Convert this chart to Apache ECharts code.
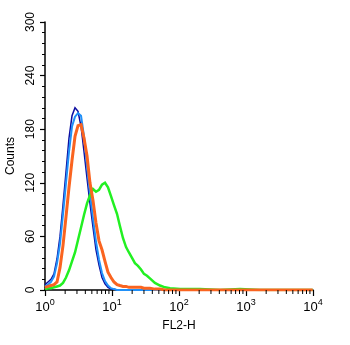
<!DOCTYPE html>
<html><head><meta charset="utf-8">
<script src="https://cdn.jsdelivr.net/npm/echarts@6/dist/echarts.min.js"></script>
<style>html,body{margin:0;padding:0;background:#fff}#c{width:350px;height:345px}</style>
</head><body><div id="c"></div>
<script>
// Fluorescence channel (FL2-H) values
var channels = [1.00,1.109,1.229,1.362,1.511,1.675,1.857,2.058,2.282,2.530,2.805,3.11,3.45,3.82,4.24,4.69,5.21,5.77,6.40,7.09,7.86,8.71,9.66,10.7,11.9,13.1,14.6,16.2,17.9,19.9,22.0,24.4,27.1,30.0,33.3,36.8,43.7,52.0,61.7,73.5,104,146,206,410,815,1620,3220,6400,9900];
var darkBlue  = [6,9,12,18,35,60,95,132,170,195,204,200,183,155,125,97,70,45,28,14,7,3,1,1,0,0,0,0,0,0,0,0,0,0,0,0,0,0,0,0,0,0,0,0,0,0,0,0,0];
var lightBlue = [4,6,9,15,30,52,85,120,155,183,194,198,195,172,138,108,80,54,34,19,10,5,2,1,0,0,0,0,0,0,0,0,0,0,0,0,0,0,0,0,0,0,0,0,0,0,0,0,0];
var orange    = [3,4,5,6,9,25,50,82,115,145,172,184,185,170,150,120,100,75,55,45,32,20,14,9,6,5,4,4,3,3,3,3,3,2,2,2,1,1,0,0,0,0,0,0,0,0,0,0,0];
var green     = [1,2,2,3,4,5,8,14,22,32,42,56,70,84,97,106,113,110,112,118,120,115,105,95,85,72,58,48,42,36,30,27,23,18,16,13,8,5,3,2,1,1,1,0,1,0,0,0,0];
var yTicks = [0,60,120,180,240,300];
var xMinorTicks = [2,3,4,5,6,7,8,9,20,30,40,50,60,70,80,90,200,300,400,500,600,700,800,900,2000,3000,4000,5000,6000,7000,8000,9000];

function pairs(ys){ return channels.map(function(x,i){ return [x, ys[i]]; }); }
function line(name, ys, color, w){
  return {name:name, type:'line', symbol:'none', data:pairs(ys),
    lineStyle:{color:color, width:w, join:'miter'}, itemStyle:{color:color}, animation:false};
}
var F = 'Liberation Sans, Arial, sans-serif';
var chart = echarts.init(document.getElementById('c'), null, {renderer:'canvas'});
chart.setOption({
  animation:false,
  backgroundColor:'#fff',
  textStyle:{fontFamily:F, color:'#000'},
  grid:{left:45, right:37, top:22, bottom:55, containLabel:false, outerBoundsMode:'none'},
  xAxis:{type:'log', logBase:10, min:1, max:10000,
    name:'FL2-H', nameLocation:'middle', nameGap:30,
    nameTextStyle:{fontSize:12, color:'#000', fontFamily:F},
    axisLine:{lineStyle:{color:'#000', width:1.5}},
    axisTick:{show:true, length:6, lineStyle:{color:'#000', width:1.2}},
    splitLine:{show:false},
    axisLabel:{margin:8, color:'#000',
      formatter:function(v){ return '{b|10}{s|' + Math.round(Math.log10(v)) + '}'; },
      rich:{b:{fontSize:13, lineHeight:16, verticalAlign:'bottom', fontFamily:F, color:'#000'},
            s:{fontSize:9, lineHeight:10, verticalAlign:'top', fontFamily:F, color:'#000'}}}
  },
  yAxis:{type:'value', min:0, max:300, interval:60,
    name:'Counts', nameLocation:'middle', nameGap:25, nameRotate:90,
    nameTextStyle:{fontSize:12, color:'#000', fontFamily:F},
    axisLine:{show:true, lineStyle:{color:'#000', width:1.5}},
    axisTick:{show:true, length:5, lineStyle:{color:'#000', width:1.2}},
    minorTick:{show:true, splitNumber:5, length:3, lineStyle:{color:'#000', width:1}},
    splitLine:{show:false},
    axisLabel:{rotate:90, margin:8, fontSize:12, color:'#000',
      formatter:function(v){ return yTicks.indexOf(v) >= 0 ? String(v) : ''; }}
  },
  series:[
    line('dark', darkBlue, '#0c0ca0', 1.5),
    line('light', lightBlue, '#2090f8', 2),
    line('green', green, '#22f022', 2.5),
    line('orange', orange, '#fa6420', 3),
    {type:'custom', silent:true, clip:false, data:xMinorTicks.map(function(v){return [v,0];}),
      renderItem:function(params, api){
        var p = api.coord([api.value(0), 0]);
        return {type:'line', shape:{x1:p[0], y1:p[1], x2:p[0], y2:p[1]+4},
          style:{stroke:'#000', lineWidth:1}};
      }, z:10}
  ]
});
</script></body></html>
